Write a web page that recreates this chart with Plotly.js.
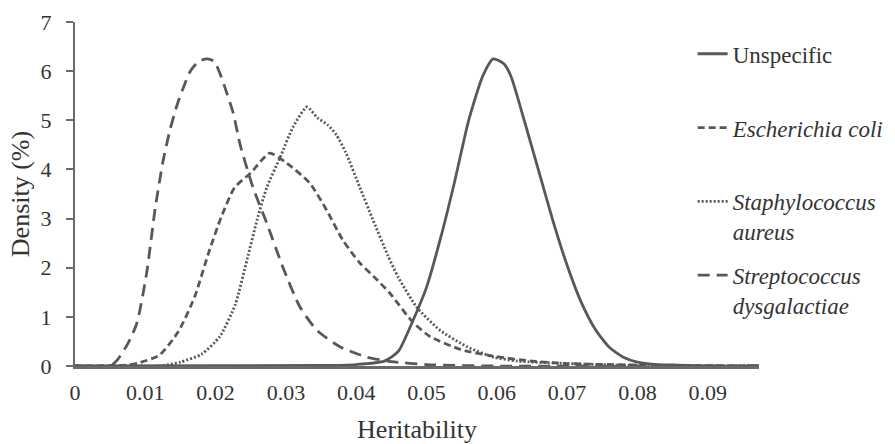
<!DOCTYPE html>
<html>
<head>
<meta charset="utf-8">
<script src="https://cdn.plot.ly/plotly-3.0.1.min.js"></script>
<style>
  html, body { margin: 0; padding: 0; background: #fff; }
  #chart { width: 895px; height: 444px; }
</style>
</head>
<body>
<div id="chart"></div>
<script>
// Heritability values (x) and density values (y, %)
const unspecificX = [0, 0.035, 0.040, 0.044, 0.046, 0.048, 0.050, 0.052, 0.054, 0.056, 0.058, 0.0595, 0.061, 0.062, 0.064, 0.066, 0.068, 0.070, 0.072, 0.074, 0.076, 0.078, 0.080, 0.082, 0.085, 0.090, 0.0973];
const unspecificY = [0, 0.01, 0.03, 0.10, 0.30, 0.90, 1.60, 2.60, 3.75, 5.00, 5.90, 6.25, 6.15, 5.90, 4.95, 3.95, 2.95, 2.05, 1.30, 0.75, 0.38, 0.18, 0.08, 0.04, 0.02, 0, 0];

const ecoliX = [0, 0.0075, 0.0090, 0.0120, 0.0147, 0.0170, 0.0190, 0.0208, 0.0227, 0.0250, 0.0277, 0.0301, 0.0334, 0.0358, 0.0381, 0.0405, 0.0430, 0.0448, 0.0480, 0.0505, 0.0550, 0.0600, 0.0650, 0.0700, 0.0800, 0.0973];
const ecoliY = [0, 0.02, 0.06, 0.22, 0.70, 1.40, 2.30, 3.03, 3.63, 3.93, 4.33, 4.13, 3.72, 3.17, 2.56, 2.10, 1.75, 1.48, 0.90, 0.60, 0.33, 0.19, 0.10, 0.05, 0.02, 0];

const staphX = [0, 0.012, 0.015, 0.018, 0.0206, 0.0228, 0.0245, 0.0259, 0.0273, 0.0292, 0.0310, 0.0330, 0.0345, 0.0360, 0.0372, 0.0385, 0.0405, 0.0424, 0.0445, 0.0460, 0.0486, 0.0519, 0.0558, 0.0595, 0.0630, 0.0700, 0.0800, 0.0973];
const staphY = [0, 0, 0.08, 0.24, 0.60, 1.25, 2.18, 2.97, 3.64, 4.25, 4.86, 5.27, 5.05, 4.90, 4.70, 4.35, 3.64, 2.97, 2.25, 1.80, 1.20, 0.73, 0.39, 0.18, 0.10, 0.05, 0.01, 0];

const strepX = [0, 0.0050, 0.0060, 0.0075, 0.0088, 0.0102, 0.0114, 0.0125, 0.0135, 0.0145, 0.0155, 0.0164, 0.0176, 0.0188, 0.0198, 0.0206, 0.0213, 0.0225, 0.0235, 0.0253, 0.0273, 0.0296, 0.0320, 0.0344, 0.0377, 0.0415, 0.0450, 0.0500, 0.0600, 0.0973];
const strepY = [0, 0, 0.12, 0.45, 0.87, 1.90, 3.20, 4.15, 4.80, 5.30, 5.70, 6.00, 6.20, 6.25, 6.20, 5.96, 5.68, 5.15, 4.50, 3.64, 2.90, 2.00, 1.20, 0.73, 0.39, 0.18, 0.09, 0.03, 0, 0];

const seriesNames = ['Unspecific<br> ', '<i>Escherichia coli</i><br> ', '<i>Staphylococcus</i><br><i>aureus</i>', '<i>Streptococcus</i><br><i>dysgalactiae</i>'];

const xTickVals = [0, 0.01, 0.02, 0.03, 0.04, 0.05, 0.06, 0.07, 0.08, 0.09];
const xTickText = ['0', '0.01', '0.02', '0.03', '0.04', '0.05', '0.06', '0.07', '0.08', '0.09'];
const yTickVals = [0, 1, 2, 3, 4, 5, 6, 7];

const lineColor = '#585858';
const font = 'Liberation Serif';

function tr(x, y, name, dash, group) {
  return {
    x: x, y: y, name: name, type: 'scatter', mode: 'lines',
    legendgroup: group,
    line: { color: lineColor, width: 2.8, dash: dash, shape: 'spline', smoothing: 0.6 },
    hoverinfo: 'skip'
  };
}

const data = [
  tr(unspecificX, unspecificY, seriesNames[0], 'solid', 'a'),
  tr(ecoliX, ecoliY, seriesNames[1], '7px,4px', 'b'),
  tr(staphX, staphY, seriesNames[2], '2px,2px', 'c'),
  tr(strepX, strepY, seriesNames[3], '12px,7px', 'd')
];

const layout = {
  width: 895, height: 444,
  margin: { l: 75, r: 136, t: 22, b: 78, autoexpand: false },
  paper_bgcolor: '#fff', plot_bgcolor: '#fff',
  font: { family: font, color: '#333', size: 22 },
  showlegend: true,
  legend: {
    x: 0.903, xanchor: 'left', y: 0.97, yanchor: 'top',
    valign: 'top', traceorder: 'grouped', tracegroupgap: 11,
    font: { family: font, size: 23, color: '#333' },
    bgcolor: 'rgba(0,0,0,0)'
  },
  xaxis: {
    range: [0, 0.0973], tickmode: 'array', tickvals: xTickVals, ticktext: xTickText,
    showgrid: false, zeroline: false, showline: true, linecolor: '#6a6a6a', linewidth: 3,
    ticks: '', ticklabelstandoff: 5,
    tickfont: { family: font, size: 22, color: '#333' },
    title: { text: 'Heritability', font: { family: font, size: 26, color: '#333' }, standoff: 19 }
  },
  yaxis: {
    range: [0, 7], tickmode: 'array', tickvals: yTickVals,
    showgrid: false, zeroline: false, showline: true, linecolor: '#6a6a6a', linewidth: 2,
    ticks: 'outside', ticklen: 7, tickwidth: 2, tickcolor: '#6a6a6a', ticklabelstandoff: 10,
    tickfont: { family: font, size: 22, color: '#333' },
    title: { text: 'Density (%)', font: { family: font, size: 26, color: '#333' }, standoff: 3 }
  }
};

Plotly.newPlot('chart', data, layout, { displayModeBar: false, staticPlot: true });
</script>
</body>
</html>
